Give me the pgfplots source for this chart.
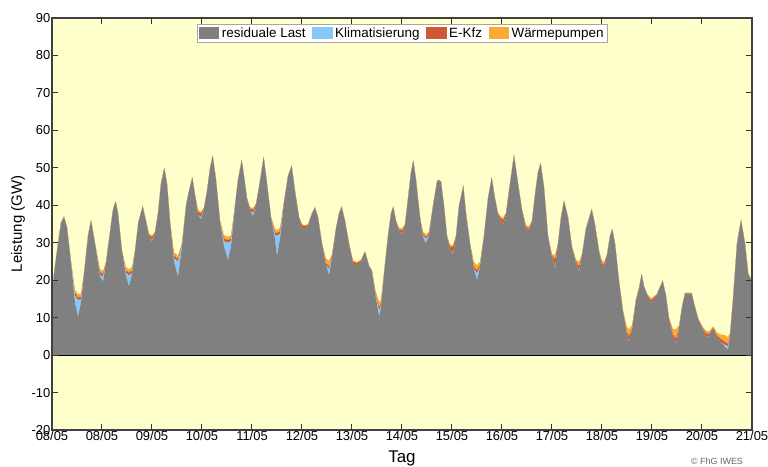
\documentclass[border=0pt]{standalone}
\usepackage{fontspec}
\setmainfont{Liberation Sans}
\usepackage{pgfplots}
\usepackage{pgfplotstable}
\pgfplotsset{compat=1.18}
\definecolor{bgyellow}{RGB}{255,255,204}
\definecolor{resgray}{RGB}{128,128,128}
\definecolor{klimablue}{RGB}{135,200,250}
\definecolor{kfzred}{RGB}{204,88,52}
\definecolor{wporange}{RGB}{253,170,50}
% x: position (52 = first tick, 50 units per day); g: residuale Last; b: Klimatisierung; r: E-Kfz; o: Waermepumpen
\pgfplotstableread{
x g b r o
52 16.5 0.5 0.5 0.5
55 23.7 0 0.15 0.15
58 29.7 0 0.15 0.15
61 35.2 0 0.15 0.15
64 36.8 0 0.15 0.15
67 34.0 0 0.15 0.15
71 24.7 0 0.15 0.15
75 14 1.9 0.7 0.9
78 10.2 4.5 0.7 0.9
81 14 0.9 0.7 0.9
84 21.5 0 0.25 0.25
88 31.7 0 0.15 0.15
91 35.9 0 0.15 0.15
95 29.7 0 0.15 0.15
100 21 0.4 0.8 0.8
103 19.6 1.3 0.8 0.8
106 24.5 0 0.25 0.25
110 32.7 0 0.15 0.15
113 38.7 0 0.15 0.15
115.7 40.9 0 0.15 0.15
118 37.7 0 0.15 0.15
122 27.7 0 0.15 0.15
126 21 0.9 0.7 0.9
129 18.4 2.9 0.7 0.9
132 21.5 0.4 0.7 0.9
135 27.6 0 0.2 0.2
138.3 35.3 0 0.15 0.15
142.7 39.6 0 0.15 0.15
146 35.7 0 0.15 0.15
149 31.5 0 0.6 0.4
152 30.3 0.3 0.9 0.4
155 32.5 0 0.3 0.2
158 37.7 0 0.15 0.15
161 45.7 0 0.15 0.15
164.3 49.8 0 0.15 0.15
167 45.7 0 0.15 0.15
170 35.7 0 0.15 0.15
174 25 0.9 0.7 0.9
178 20.9 4.0 0.7 0.9
182 29 0.2 0.4 0.4
186 39.7 0 0.15 0.15
188.3 42.9 0 0.15 0.15
192.3 47.3 0 0.15 0.15
195 42.7 0 0.15 0.15
198 37.5 0 0.8 0.5
201 36.2 0.6 1.0 0.5
204 39 0 0.3 0.2
207 43.7 0 0.15 0.15
210 49.7 0 0.15 0.15
212.7 53.1 0 0.15 0.15
216 46.7 0 0.15 0.15
220 35.7 0 0.15 0.15
224 29 1.4 0.7 0.9
228 25.4 4.6 0.7 0.9
231 29 1.4 0.7 0.9
235 39.7 0 0.15 0.15
238 46.7 0 0.15 0.15
241.7 51.9 0 0.15 0.15
244 47.7 0 0.15 0.15
247 41.7 0 0.15 0.15
250 38.5 0 0.7 0.4
253 37.1 0.8 0.9 0.4
256 40 0 0.3 0.2
259 44.7 0 0.15 0.15
263.7 52.8 0 0.15 0.15
267 45.7 0 0.15 0.15
271 36.7 0 0.15 0.15
275 31 1.2 0.7 0.9
277 26.5 5.3 0.7 0.9
280 31 1.4 0.7 0.9
284 40.7 0 0.15 0.15
288 47.7 0 0.15 0.15
291.7 50.4 0 0.15 0.15
295 43.7 0 0.15 0.15
299 36.7 0 0.15 0.15
302 34 0 0.7 0.3
305 33.5 0 0.9 0.3
308 34.6 0 0.2 0.2
312 37.7 0 0.15 0.15
315 39.3 0 0.15 0.15
318 36.7 0 0.15 0.15
322 29.7 0 0.15 0.15
326 24 0 0.6 1.2
329 21.4 1.6 0.7 1.5
332 26 0 0.4 0.6
336 33.7 0 0.15 0.15
339 37.7 0 0.15 0.15
341.7 39.5 0 0.15 0.15
345 35.7 0 0.15 0.15
349 29.7 0 0.15 0.15
353 24.5 0 0.5 0.3
357 23.6 0 0.9 0.4
361 25 0 0.3 0.2
365 27.5 0 0.15 0.15
369 23.7 0 0.15 0.15
372 22.2 0 0.3 0.2
375 16.5 0 0.5 1.0
378 12 1.0 0.7 1.3
379.5 10.2 1.8 0.7 1.5
381 13 0.3 0.7 1.0
384 21.5 0 0.2 0.3
388 31.7 0 0.15 0.15
391 37.7 0 0.15 0.15
393.3 39.5 0 0.15 0.15
396 35.7 0 0.15 0.15
399 33 0 0.6 0.4
402 32.2 0.2 0.9 0.5
405 34.6 0 0.2 0.2
408 41.7 0 0.15 0.15
411 48.7 0 0.15 0.15
413.3 51.8 0 0.15 0.15
416 46.7 0 0.15 0.15
420 36.7 0 0.15 0.15
423 31.5 0.3 0.5 0.7
426 29.8 1.2 0.5 0.7
429 32 0 0.4 0.6
433 39.7 0 0.15 0.15
437 46.2 0 0.15 0.15
438.3 46.6 0 0.15 0.15
441 46.2 0 0.15 0.15
444 39.7 0 0.15 0.15
447 31.7 0 0.15 0.15
450 28 0 1.0 0.5
453 27 0.2 1.7 0.5
456 31.5 0 0.3 0.2
459 39.7 0 0.15 0.15
463.3 45.1 0 0.15 0.15
466 37.7 0 0.15 0.15
470 29.7 0 0.15 0.15
474 23 0 0.6 1.2
477 20 1.8 0.8 1.4
480 23.5 0 0.5 1.0
484 31.7 0 0.15 0.15
488 41.7 0 0.15 0.15
491.7 47.3 0 0.15 0.15
495 41.7 0 0.15 0.15
498 37.7 0 0.15 0.15
501 35.5 0 1.0 0.5
503 34.7 0 1.4 0.6
506 37.5 0 0.3 0.2
509 43.7 0 0.15 0.15
514 53.3 0 0.15 0.15
518 45.7 0 0.15 0.15
522 38.7 0 0.15 0.15
526 33.8 0 0.4 0.5
529 33.4 0 0.3 0.7
532 35.7 0 0.15 0.15
535 42.7 0 0.15 0.15
538 48.7 0 0.15 0.15
540.7 51.1 0 0.15 0.15
544 44.7 0 0.15 0.15
548 31.7 0 0.15 0.15
552 26 0 0.5 0.5
555 23.1 0.2 2.4 1.0
558 29.5 0 0.3 0.2
561 36.7 0 0.15 0.15
564 41.1 0 0.15 0.15
568 36.7 0 0.15 0.15
572 28.7 0 0.15 0.15
576 24.5 0 0.5 0.5
579 22.2 0.1 1.4 1.2
582 26.5 0 0.3 0.2
586 33.7 0 0.15 0.15
591.7 38.8 0 0.15 0.15
595 34.7 0 0.15 0.15
599 27.7 0 0.15 0.15
602 24 0 0.6 0.6
604 23.1 0 1.0 0.8
607 26.6 0 0.2 0.2
610 31.7 0 0.15 0.15
612.3 33.5 0 0.15 0.15
615 29.7 0 0.15 0.15
619 19.7 0 0.15 0.15
623 11.5 0 0.2 0.3
627 5.5 0 0.6 1.4
629 3.6 0 1.5 1.8
632 6.5 0 0.5 1.0
636 14.6 0 0.2 0.2
639 17.7 0 0.15 0.15
641.7 21.5 0 0.15 0.15
644 18.2 0 0.15 0.15
647 16.2 0 0.15 0.15
651 13.8 0 0.8 0.5
656.7 16 0 0.15 0.15
662.7 19.7 0 0.15 0.15
666 15.7 0 0.15 0.15
669 9.6 0 0.2 0.2
673 5 0 0.5 1.5
676 2.9 0 1.5 2.5
679 7 0 0.3 0.7
682 12.7 0 0.15 0.15
685 16.4 0 0.15 0.15
691.7 16.4 0 0.15 0.15
694 13.7 0 0.15 0.15
698.3 9.4 0 0.2 0.2
703 6.8 0 0.3 0.4
706 5 0 0.8 0.7
709 4.9 0 0.7 0.7
713.3 7.2 0 0.2 0.3
717 4.5 0 0.7 0.8
721 3.5 0 0.8 1.2
725 2.2 0.5 0.8 1.8
728 1.5 0.9 0.6 1.8
730 5 0 0.3 0.7
733 14.7 0 0.15 0.15
737 29.7 0 0.15 0.15
741 36 0 0.15 0.15
745 29.7 0 0.15 0.15
748.3 21.5 0 0.15 0.15
752 19.7 0 0.15 0.15
}\loaddata
\begin{document}
\begin{tikzpicture}
\path[use as bounding box] (-52bp,-37bp) rectangle (716bp,430bp);
\begin{axis}[
  at={(0,0)}, anchor=south west,
  scale only axis, width=700bp, height=412bp,
  xmin=52, xmax=752, ymin=-20, ymax=90,
  xtick={52,102,...,752},
  xticklabels={08/05,08/05,09/05,10/05,11/05,12/05,13/05,14/05,15/05,16/05,17/05,18/05,19/05,20/05,21/05},
  ytick={-20,-10,...,90},
  tick align=inside,
  major tick length=6bp,
  axis line style={black!75, line width=1.2bp},
  every tick/.style={black!80, line width=1bp},
  axis background/.style={fill=bgyellow},
  axis on top=true,
  stack plots=y,
  /pgf/number format/assume math mode=true,
  tick label style={font=\fontsize{13}{15}\selectfont},
  xticklabel style={inner sep=1.2bp},
  yticklabel style={inner sep=1.5bp},
  xlabel={Tag},
  ylabel={Leistung (GW)},
  every axis x label/.style={at={(axis description cs:0.5,-0.068)}, anchor=center, font=\fontsize{17}{19}\selectfont},
  every axis y label/.style={at={(axis description cs:-0.0486,0.5)}, rotate=90, anchor=center, font=\fontsize{15}{17}\selectfont},
  extra y ticks={0},
  extra y tick labels={},
  extra y tick style={grid=major, major grid style={black, line width=1bp}},
  legend style={at={(0.5,0.985)}, anchor=north, legend columns=4,
    font=\fontsize{13.5}{15}\selectfont, draw=black!35, fill=white,
    inner sep=2bp, row sep=0pt,
    nodes={inner sep=1.5bp},
    /tikz/every odd column/.append style={column sep=1bp},
    /tikz/every even column/.append style={column sep=5bp}},
  legend image code/.code={\fill[#1] (0bp,-6bp) rectangle (20.5bp,6bp);},
]
\addplot[fill=resgray, draw=none] table[x=x, y=g] {\loaddata} \closedcycle;
\addlegendentry{residuale Last}
\addplot[fill=klimablue, draw=none] table[x=x, y=b] {\loaddata} \closedcycle;
\addlegendentry{Klimatisierung}
\addplot[fill=kfzred, draw=none] table[x=x, y=r] {\loaddata} \closedcycle;
\addlegendentry{E-Kfz}
\addplot[fill=wporange, draw=none] table[x=x, y=o] {\loaddata} \closedcycle;
\addlegendentry{Wärmepumpen}
\end{axis}
\node[font=\fontsize{9}{10}\selectfont, text=black!60] at (665bp,-31bp) {© FhG IWES};
\end{tikzpicture}
\end{document}
